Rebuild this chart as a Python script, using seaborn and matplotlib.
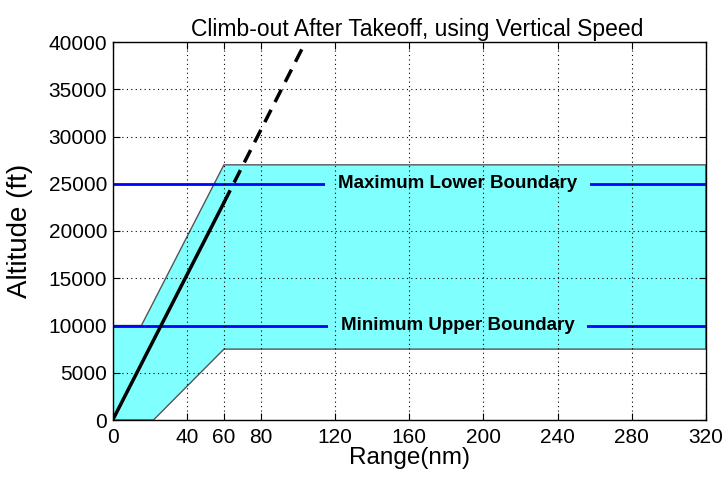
import matplotlib
matplotlib.use("Agg")
import matplotlib.pyplot as plt
import matplotlib.patches as mpatches
import seaborn as sns
import pandas as pd

# Data
envelope_x = [0, 0, 15.5, 60, 320, 320, 60, 22]
envelope_y = [0, 10000, 10000, 27000, 27000, 7500, 7500, 0]
climb_solid_x = [0, 60]
climb_solid_y = [0, 23000]
climb_dash_x = [60, 104]
climb_dash_y = [23000, 40000]
boundary_x = [0, 320]
max_lower_y = [25000, 25000]
min_upper_y = [10000, 10000]
x_ticks = [0, 40, 60, 80, 120, 160, 200, 240, 280, 320]
y_ticks = [0, 5000, 10000, 15000, 20000, 25000, 30000, 35000, 40000]
label_x = 186
labels = ["Maximum Lower Boundary", "Minimum Upper Boundary"]
label_y = [25000, 10000]

sns.set_style("white")
plt.rcParams['font.family'] = ['Liberation Sans', 'DejaVu Sans']
plt.rcParams['text.color'] = 'black'
plt.rcParams['axes.labelcolor'] = 'black'
plt.rcParams['xtick.color'] = 'black'
plt.rcParams['ytick.color'] = 'black'

fig = plt.figure(figsize=(7.27, 4.8), dpi=100)
ax = fig.add_axes([0.155, 0.125, 0.816, 0.7875])

ax.fill(envelope_x, envelope_y, facecolor="#80ffff", edgecolor="#555555", linewidth=1, zorder=1)

df_max = pd.DataFrame({"x": boundary_x, "y": max_lower_y})
df_min = pd.DataFrame({"x": boundary_x, "y": min_upper_y})
sns.lineplot(data=df_max, x="x", y="y", color="#0000ff", linewidth=2, ax=ax, zorder=2)
sns.lineplot(data=df_min, x="x", y="y", color="#0000ff", linewidth=2, ax=ax, zorder=2)

df_s = pd.DataFrame({"x": climb_solid_x, "y": climb_solid_y})
df_d = pd.DataFrame({"x": climb_dash_x, "y": climb_dash_y})
sns.lineplot(data=df_s, x="x", y="y", color="black", linewidth=2.5, ax=ax, zorder=4)
sns.lineplot(data=df_d, x="x", y="y", color="black", linewidth=2.5, ax=ax, zorder=4,
             linestyle=(0, (4, 2.5)))

ax.set_xlim(0, 320)
ax.set_ylim(0, 40000)

texts = []
for t, yy in zip(labels, label_y):
    texts.append(ax.text(label_x, yy, t, ha="center", va="center", fontsize=13.5,
                         fontweight="bold", color="black", zorder=5))

ax.set_xticks(x_ticks)
ax.set_yticks(y_ticks)
ax.set_xticklabels([str(v) for v in x_ticks], fontsize=15)
ax.set_yticklabels([str(v) for v in y_ticks], fontsize=15)
ax.grid(True, color="black", linestyle=(0, (1, 3)), linewidth=0.8)
ax.xaxis.set_zorder(3.2)
ax.yaxis.set_zorder(1.2)
ax.tick_params(direction="in", length=5, top=True, right=True, bottom=True, left=True,
               pad=4, colors="black")
ax.tick_params(axis="x", pad=6)
for s in ax.spines.values():
    s.set_visible(True)
    s.set_color("black")
    s.set_linewidth(1)
    s.set_zorder(6)

ax.set_xlabel("Range(nm)", fontsize=17.5, labelpad=0, color="black")
ax.set_ylabel("Altitude (ft)", fontsize=20, labelpad=11, color="black")
ax.set_title("Climb-out After Takeoff, using Vertical Speed", fontsize=16.5, pad=4, x=0.513,
             color="black")

# cyan background behind each label, sized from the rendered text extent
fig.canvas.draw()
inv = ax.transData.inverted()
for txt in texts:
    bb = txt.get_window_extent()
    (x0, y0), (x1, y1) = inv.transform([[bb.x0 - 13, bb.y0 - 2], [bb.x1 + 13, bb.y1 + 2]])
    ax.add_patch(mpatches.Rectangle((x0, y0), x1 - x0, y1 - y0, facecolor="#80ffff",
                                    edgecolor="none", zorder=3))

fig.savefig("out.png", dpi=100)
